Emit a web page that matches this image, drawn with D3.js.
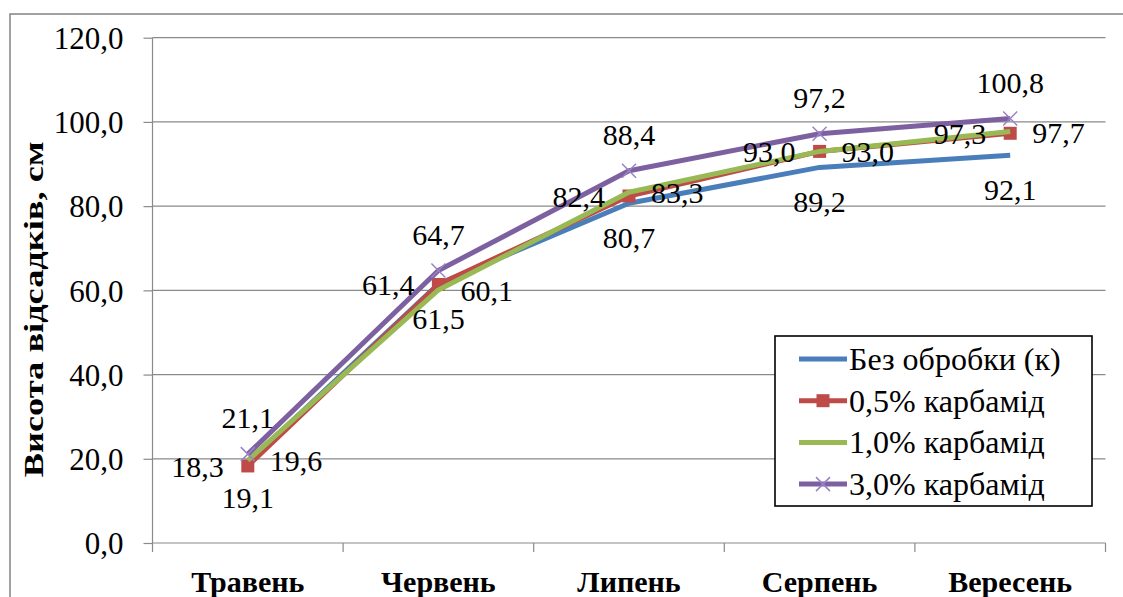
<!DOCTYPE html>
<html><head><meta charset="utf-8">
<script src="https://cdn.jsdelivr.net/npm/d3@7"></script>
<style>
html,body{margin:0;padding:0;background:#fff;}
svg text{font-family:"Liberation Serif","Times New Roman",Tinos,"DejaVu Serif",serif;}
</style></head>
<body><svg id="c" width="1123" height="597"></svg>
<script>
const categories = ["Травень","Червень","Липень","Серпень","Вересень"];
const seriesNames = ["Без обробки (к)","0,5% карбамід","1,0% карбамід","3,0% карбамід"];
const control = [19.1, 61.5, 80.7, 89.2, 92.1];
const urea05 = [18.3, 61.4, 82.4, 93.0, 97.3];
const urea10 = [19.6, 60.1, 83.3, 93.0, 97.7];
const urea30 = [21.1, 64.7, 88.4, 97.2, 100.8];
const yTicks = [0, 20, 40, 60, 80, 100, 120];
const yTitle = "Висота відсадків, см";

const colors = ["#4A7EBB", "#BE4B48", "#98B954", "#7D60A0"];
const markers = ["none", "square", "none", "x"];
const labelPos = ["below", "left", "right", "above"];
const seriesValues = [control, urea05, urea10, urea30];

const svg = d3.select("#c");
const L = 152.5, R = 1105.5, T = 37.7, B = 543;
const fmt = v => d3.format(".1f")(v).replace(".", ",");

svg.append("rect").attr("x",10).attr("y",14).attr("width",1300).attr("height",800)
  .attr("fill","none").attr("stroke","#8a8a8a").attr("stroke-width",1.6);

const x = d3.scaleBand().domain(categories).range([L, R]).padding(0);
const y = d3.scaleLinear().domain([0, 120]).range([B, T]);

svg.append("g").selectAll("line").data(yTicks.filter(d=>d>0)).join("line")
  .attr("x1", L).attr("x2", R).attr("y1", d=>y(d)).attr("y2", d=>y(d))
  .attr("stroke","#8a8a8a").attr("stroke-width",1.2);

const ya = svg.append("g").attr("transform",`translate(${L},0)`)
  .call(d3.axisLeft(y).tickValues(yTicks).tickFormat(fmt).tickSize(9).tickPadding(20));
ya.attr("font-family", null);
ya.select(".domain").attr("stroke","#8a8a8a").attr("stroke-width",1.2).attr("d",`M0,${T}V${B}`);
ya.selectAll(".tick line").attr("stroke","#8a8a8a").attr("stroke-width",1.2);
ya.selectAll(".tick text").attr("font-size",31).attr("fill","#000").attr("dy","0.35em");

const xa = svg.append("g").attr("transform",`translate(0,${B})`);
xa.append("line").attr("x1",L).attr("x2",R).attr("y1",0).attr("y2",0)
  .attr("stroke","#8a8a8a").attr("stroke-width",1.2);
const bounds = categories.map(c=>x(c)).concat([x(categories[categories.length-1])+x.bandwidth()]);
xa.selectAll("line.tk").data(bounds).join("line").attr("class","tk")
  .attr("x1",d=>d).attr("x2",d=>d).attr("y1",0).attr("y2",9)
  .attr("stroke","#8a8a8a").attr("stroke-width",1.2);
xa.selectAll("text").data(categories).join("text")
  .attr("x", d=>x(d)+x.bandwidth()/2).attr("y", 49)
  .attr("text-anchor","middle").attr("font-size",30).attr("font-weight","bold").text(d=>d);

svg.append("text").attr("transform",`translate(43,${(T+B)/2+19}) rotate(-90)`)
  .attr("text-anchor","middle").attr("font-size",27).attr("font-weight","bold")
  .attr("textLength",336).attr("lengthAdjust","spacingAndGlyphs").text(yTitle);

const cx = c => x(c) + x.bandwidth()/2;
const line = d3.line().x((d,i)=>cx(categories[i])).y(d=>y(d));

function drawMarker(g, type, color, px, py) {
  if (type === "square") {
    g.append("rect").attr("x",px-6.5).attr("y",py-6.5).attr("width",13).attr("height",13).attr("fill",color);
  } else if (type === "x") {
    const s = 7;
    g.append("path").attr("d",`M${px-s},${py-s}L${px+s},${py+s}M${px-s},${py+s}L${px+s},${py-s}`)
      .attr("stroke","#9a82c4").attr("stroke-width",1.5).attr("fill","none");
  }
}

seriesValues.forEach((vals, si) => {
  const g = svg.append("g");
  g.append("path").datum(vals).attr("d", line).attr("fill","none")
    .attr("stroke", colors[si]).attr("stroke-width", 5).attr("stroke-linejoin","round");
  vals.forEach((v,i)=> drawMarker(g, markers[si], colors[si], cx(categories[i]), y(v)));
});

seriesValues.forEach((vals, si) => {
  vals.forEach((v,i)=>{
    const px = cx(categories[i]), py = y(v);
    const t = svg.append("text").attr("font-size",30).attr("fill","#000").text(fmt(v));
    const pos = labelPos[si];
    if (pos === "above") t.attr("x",px).attr("y",py-26).attr("text-anchor","middle");
    else if (pos === "below") t.attr("x",px).attr("y",py+45).attr("text-anchor","middle");
    else if (pos === "left") t.attr("x",px-24).attr("y",py+11).attr("text-anchor","end");
    else t.attr("x",px+22).attr("y",py+11).attr("text-anchor","start");
  });
});

const lg = svg.append("g");
lg.append("rect").attr("x",775).attr("y",336).attr("width",317).attr("height",170)
  .attr("fill","#fff").attr("stroke","#000").attr("stroke-width",1.6);
seriesNames.forEach((n, si)=>{
  const ly = 359 + si*41.7;
  lg.append("line").attr("x1",799).attr("x2",847).attr("y1",ly).attr("y2",ly)
    .attr("stroke",colors[si]).attr("stroke-width",5);
  drawMarker(lg, markers[si], colors[si], 823, ly);
  lg.append("text").attr("x",849).attr("y",ly+11).attr("font-size",32).text(n);
});
</script></body></html>
